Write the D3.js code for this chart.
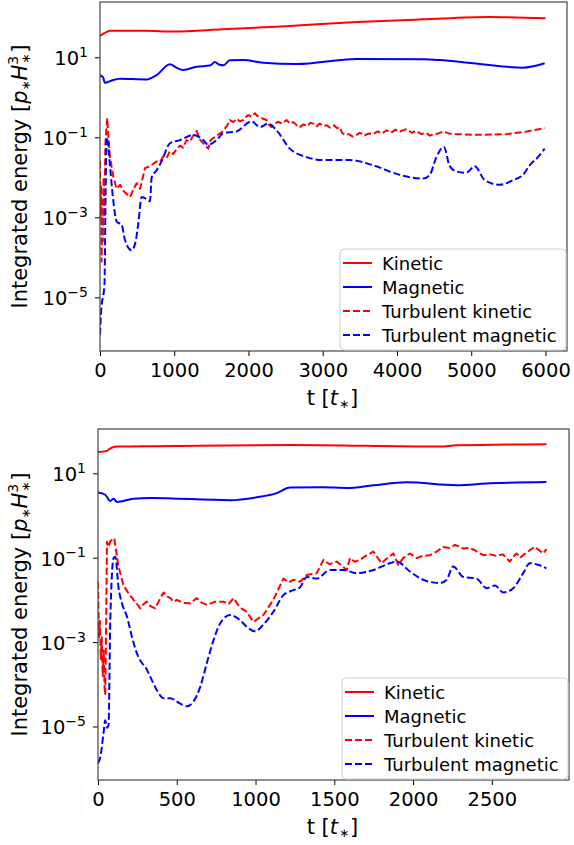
<!DOCTYPE html>
<html>
<head>
<meta charset="utf-8">
<script src="https://cdn.jsdelivr.net/npm/d3@7"></script>
<style>
  body { margin: 0; background: #fff; }
  svg { display: block; }
  text { font-family: "DejaVu Sans", sans-serif; fill: #000; }
</style>
</head>
<body>
<div id="chart"></div>
<script>
// ---- data: [time, energy] ----
const seriesNames = ["Kinetic", "Magnetic", "Turbulent kinetic", "Turbulent magnetic"];
const yTickExps = [1, -1, -3, -5];
const xTicksTop = [0, 1000, 2000, 3000, 4000, 5000, 6000];
const xTicksBottom = [0, 500, 1000, 1500, 2000, 2500];

const topKinetic = [[0,34],[60,40],[135,46],[600,46],[1000,44],[1650,50],[2500,60],[3460,76],[4350,89],[5250,102],[6000,95]];
const topMagnetic = [[0,3.5],[40,3.2],[67,2.3],[150,2.6],[269,2.9],[628,2.8],[763,3.6],[942,6.7],[1030,5.5],[1121,4.8],[1301,5.8],[1480,6.2],[1548,7.6],[1600,6.6],[1660,6.3],[1750,8.4],[1929,8.5],[2198,7.3],[2647,6.8],[3455,9.1],[4351,8.9],[4576,8.5],[5024,7.1],[5697,5.5],[5989,7.1]];
const topTurbKinetic = [[0,0.025],[8,1e-3],[15,6.3e-3],[22,7.9e-5],[30,2.5e-3],[38,2.5e-4],[48,1e-2],[60,1e-3],[72,0.063],[85,0.16],[98,0.30],[110,0.126],[135,0.032],[180,0.01],[225,5.2e-3],[270,6.5e-3],[320,4.5e-3],[404,3.2e-3],[450,5.0e-3],[494,7.1e-3],[540,5.2e-3],[606,0.017],[673,0.019],[763,0.025],[808,0.024],[850,0.033],[895,0.030],[942,0.045],[985,0.038],[1032,0.050],[1077,0.062],[1120,0.055],[1165,0.085],[1211,0.078],[1255,0.11],[1301,0.145],[1335,0.095],[1368,0.078],[1410,0.065],[1458,0.052],[1490,0.085],[1525,0.095],[1570,0.11],[1615,0.125],[1650,0.14],[1682,0.165],[1715,0.20],[1750,0.27],[1795,0.24],[1840,0.29],[1885,0.25],[1929,0.27],[1965,0.32],[1996,0.36],[2040,0.33],[2086,0.40],[2120,0.34],[2153,0.32],[2200,0.29],[2243,0.27],[2280,0.20],[2310,0.18],[2355,0.22],[2400,0.245],[2450,0.22],[2512,0.27],[2560,0.22],[2600,0.24],[2650,0.20],[2692,0.18],[2740,0.21],[2790,0.19],[2830,0.23],[2872,0.22],[2920,0.19],[2960,0.22],[3010,0.19],[3051,0.20],[3100,0.175],[3150,0.20],[3190,0.17],[3230,0.18],[3260,0.13],[3298,0.115],[3350,0.12],[3400,0.105],[3455,0.115],[3500,0.13],[3560,0.11],[3620,0.125],[3678,0.12],[3740,0.14],[3800,0.125],[3860,0.15],[3920,0.13],[3980,0.155],[4040,0.14],[4128,0.16],[4200,0.13],[4260,0.145],[4330,0.12],[4390,0.13],[4441,0.11],[4500,0.12],[4560,0.125],[4620,0.14],[4700,0.125],[4800,0.12],[5100,0.115],[5473,0.12],[5750,0.14],[5989,0.17]];
const topTurbMagnetic = [[0,1.15e-6],[20,5.9e-6],[45,1.15e-5],[60,2e-5],[75,3.2e-3],[90,0.10],[110,0.063],[135,0.019],[171,3.6e-3],[225,7.8e-4],[292,6.5e-4],[336,2.7e-4],[426,1.5e-4],[480,2.5e-4],[516,7.1e-4],[561,3.2e-3],[606,3.0e-3],[673,2.5e-3],[696,0.010],[763,0.015],[830,0.025],[942,0.071],[1076,0.085],[1256,0.115],[1391,0.085],[1458,0.065],[1570,0.085],[1660,0.126],[1839,0.14],[2041,0.25],[2153,0.18],[2265,0.22],[2377,0.15],[2557,0.052],[2782,0.032],[3005,0.027],[3365,0.027],[3678,0.020],[4038,0.0115],[4351,0.0093],[4441,0.0115],[4531,0.032],[4630,0.058],[4711,0.019],[4800,0.014],[4935,0.013],[5047,0.019],[5182,0.0085],[5384,0.0065],[5563,0.0085],[5697,0.0115],[5787,0.020],[5899,0.032],[5989,0.052]];

const bottomKinetic = [[0,32],[57,34],[78,39],[120,43],[374,44],[1220,47],[2171,43],[2277,46],[2847,49]];
const bottomMagnetic = [[0,3.5],[46,3.1],[78,2.2],[99,2.5],[120,2.1],[226,2.5],[332,2.6],[839,2.3],[1008,2.7],[1135,3.4],[1219,4.6],[1431,4.7],[1579,4.5],[1748,5.2],[1960,6.1],[2277,5.2],[2488,5.8],[2847,6.2]];
const bottomTurbKinetic = [[0,0.027],[6,1.3e-3],[12,3.2e-3],[18,4e-4],[24,1.3e-3],[30,1.6e-4],[36,6.3e-4],[42,7.9e-5],[46,5.6e-5],[52,3.2e-3],[57,0.24],[66,0.18],[80,0.25],[103,0.29],[130,0.062],[162,0.022],[195,0.014],[226,0.010],[248,0.008],[268,6.3e-3],[290,8.0e-3],[310,9.1e-3],[335,7.0e-3],[363,6.3e-3],[390,0.010],[416,0.015],[440,0.012],[460,0.011],[480,0.009],[501,0.010],[540,0.0085],[585,8.3e-3],[627,0.011],[660,0.0085],[691,7.6e-3],[740,0.009],[796,9.1e-3],[830,0.008],[860,0.011],[902,6.6e-3],[945,5.2e-3],[987,3.0e-3],[1050,4.4e-3],[1113,0.010],[1177,0.032],[1210,0.026],[1240,0.030],[1283,0.027],[1325,0.039],[1389,0.043],[1431,0.089],[1470,0.07],[1516,0.081],[1579,0.051],[1600,0.098],[1630,0.08],[1663,0.089],[1700,0.11],[1748,0.14],[1775,0.10],[1800,0.074],[1840,0.10],[1875,0.126],[1906,0.068],[1940,0.10],[1980,0.126],[2023,0.098],[2060,0.11],[2107,0.115],[2150,0.14],[2192,0.18],[2230,0.17],[2266,0.20],[2300,0.18],[2318,0.165],[2360,0.17],[2393,0.15],[2420,0.13],[2445,0.115],[2490,0.12],[2530,0.11],[2570,0.12],[2614,0.081],[2640,0.11],[2657,0.126],[2680,0.10],[2699,0.115],[2740,0.15],[2773,0.18],[2800,0.15],[2826,0.126],[2847,0.16]];
const bottomTurbMagnetic = [[0,1.35e-6],[15,1.9e-6],[35,6.9e-6],[46,1.4e-5],[57,9.3e-6],[67,1.1e-5],[78,3.3e-3],[99,0.098],[110,0.105],[130,0.020],[152,8.3e-3],[184,4.0e-3],[215,1.35e-3],[247,5.4e-4],[279,3.2e-4],[300,2.6e-4],[332,1.5e-4],[374,7.2e-5],[416,4.7e-5],[458,4.7e-5],[522,3.5e-5],[564,3.0e-5],[606,3.9e-5],[649,8.7e-5],[691,3.2e-4],[733,1.1e-3],[776,2.8e-3],[839,4.4e-3],[902,3.3e-3],[945,2.3e-3],[997,1.8e-3],[1050,2.6e-3],[1113,5.2e-3],[1177,0.013],[1240,0.017],[1283,0.020],[1325,0.035],[1389,0.032],[1473,0.051],[1558,0.051],[1642,0.043],[1748,0.051],[1853,0.074],[1896,0.081],[1980,0.047],[2065,0.030],[2171,0.025],[2213,0.030],[2255,0.062],[2319,0.035],[2403,0.032],[2467,0.019],[2520,0.022],[2572,0.015],[2636,0.019],[2699,0.043],[2741,0.074],[2794,0.068],[2847,0.056]];

const svg = d3.select("#chart").append("svg")
  .attr("width", 574)
  .attr("height", 845);

// write "10^e" as real text with a raised exponent
function powerLabel(sel, e) {
  sel.append("tspan").text("10");
  sel.append("tspan")
    .attr("dy", -8.5)
    .style("font-size", "14px")
    .text(e < 0 ? "\u2212" + Math.abs(e) : String(e));
}

function drawPanel(p) {
  const x = d3.scaleLinear().domain(p.xDomain).range([p.left, p.right]);
  const y = d3.scaleLog().domain(p.yDomain).range([p.bottom, p.top]);
  const g = svg.append("g");

  g.append("clipPath").attr("id", "clip" + p.id)
    .append("rect")
    .attr("x", p.left).attr("y", p.top)
    .attr("width", p.right - p.left).attr("height", p.bottom - p.top);

  const series = [
    { data: p.kinetic, color: "#ff0000", dash: null, curve: d3.curveMonotoneX },
    { data: p.magnetic, color: "#0000ff", dash: null, curve: d3.curveMonotoneX },
    { data: p.turbKinetic, color: "#ff0000", dash: "7,3", curve: d3.curveLinear },
    { data: p.turbMagnetic, color: "#0000ff", dash: "7,3", curve: d3.curveMonotoneX },
  ];

  const lines = g.append("g").attr("clip-path", `url(#clip${p.id})`);
  series.forEach((s) => {
    lines.append("path")
      .datum(s.data)
      .attr("fill", "none")
      .attr("stroke", s.color)
      .attr("stroke-width", 2)
      .attr("stroke-dasharray", s.dash)
      .attr("stroke-linejoin", "round")
      .attr("d", d3.line().curve(s.curve).x((d) => x(d[0])).y((d) => y(d[1])));
  });

  // x axis
  const xAxis = g.append("g")
    .attr("transform", `translate(0,${p.bottom})`)
    .call(d3.axisBottom(x).tickValues(p.xTicks).tickSize(5).tickSizeOuter(0).tickPadding(7).tickFormat(d3.format("d")));
  xAxis.select(".domain").remove();
  xAxis.selectAll("text").style("font-size", "19.5px").style("font-family", "DejaVu Sans");

  // y axis, labels added by hand for the exponents
  const yAxis = g.append("g")
    .attr("transform", `translate(${p.left},0)`)
    .call(d3.axisLeft(y).tickValues(yTickExps.map((e) => Math.pow(10, e))).tickSize(5).tickSizeOuter(0).tickFormat(""));
  yAxis.select(".domain").remove();
  yAxis.selectAll(".tick").each(function (d) {
    const t = d3.select(this).append("text")
      .attr("x", -12)
      .attr("y", 7.5)
      .attr("text-anchor", "end")
      .style("font-size", "19.5px");
    powerLabel(t, Math.round(Math.log10(d)));
  });

  // frame
  g.append("rect")
    .attr("x", p.left).attr("y", p.top)
    .attr("width", p.right - p.left).attr("height", p.bottom - p.top)
    .attr("fill", "none")
    .attr("stroke", "#444")
    .attr("stroke-width", 1.2);

  // axis labels
  const xl = g.append("text")
    .attr("x", (p.left + p.right) / 2 - 1)
    .attr("y", p.bottom + 54)
    .attr("text-anchor", "middle")
    .style("font-size", "21px");
  xl.append("tspan").text("t [");
  xl.append("tspan").style("font-style", "italic").text("t");
  xl.append("tspan").attr("dx", 1).attr("dy", 3).style("font-size", "12px").text("\u2217");
  xl.append("tspan").attr("dx", 1).attr("dy", -3).text("]");

  const yl = g.append("text")
    .attr("transform", `translate(27,${(p.top + p.bottom) / 2}) rotate(-90)`)
    .attr("text-anchor", "middle")
    .style("font-size", "21px");
  yl.append("tspan").text("Integrated energy [");
  yl.append("tspan").style("font-style", "italic").text("p");
  yl.append("tspan").attr("dy", 3).style("font-size", "12px").text("\u2217");
  yl.append("tspan").attr("dy", -3).style("font-style", "italic").text("H");
  yl.append("tspan").attr("dy", -9).style("font-size", "14px").text("3");
  yl.append("tspan").attr("dx", -8).attr("dy", 12).style("font-size", "12px").text("\u2217");
  yl.append("tspan").attr("dx", 1).attr("dy", -3).text("]");

  // legend
  const lw = 226, lh = 101;
  const lg = g.append("g")
    .attr("transform", `translate(${p.right - lw - 1},${p.bottom - lh - 1})`);
  lg.append("rect")
    .attr("width", lw).attr("height", lh)
    .attr("rx", 4)
    .attr("fill", "#fff").attr("fill-opacity", 0.8)
    .attr("stroke", "#ccc");
  series.forEach((s, i) => {
    const ry = 14 + i * 24;
    lg.append("line")
      .attr("x1", 3).attr("x2", 32)
      .attr("y1", ry).attr("y2", ry)
      .attr("stroke", s.color)
      .attr("stroke-width", 2)
      .attr("stroke-dasharray", s.dash);
    lg.append("text")
      .attr("x", 42).attr("y", ry + 6.5)
      .style("font-size", "18px")
      .text(seriesNames[i]);
  });
}

drawPanel({
  id: "top", left: 100, right: 567, top: 2, bottom: 351,
  xDomain: [0, 6290], yDomain: [Math.pow(10, -6.3425), Math.pow(10, 2.3825)],
  xTicks: xTicksTop,
  kinetic: topKinetic, magnetic: topMagnetic,
  turbKinetic: topTurbKinetic, turbMagnetic: topTurbMagnetic,
});

drawPanel({
  id: "bottom", left: 98, right: 569, top: 429, bottom: 780,
  xDomain: [0, 2990], yDomain: [Math.pow(10, -6.268), Math.pow(10, 2.05)],
  xTicks: xTicksBottom,
  kinetic: bottomKinetic, magnetic: bottomMagnetic,
  turbKinetic: bottomTurbKinetic, turbMagnetic: bottomTurbMagnetic,
});
</script>
</body>
</html>
